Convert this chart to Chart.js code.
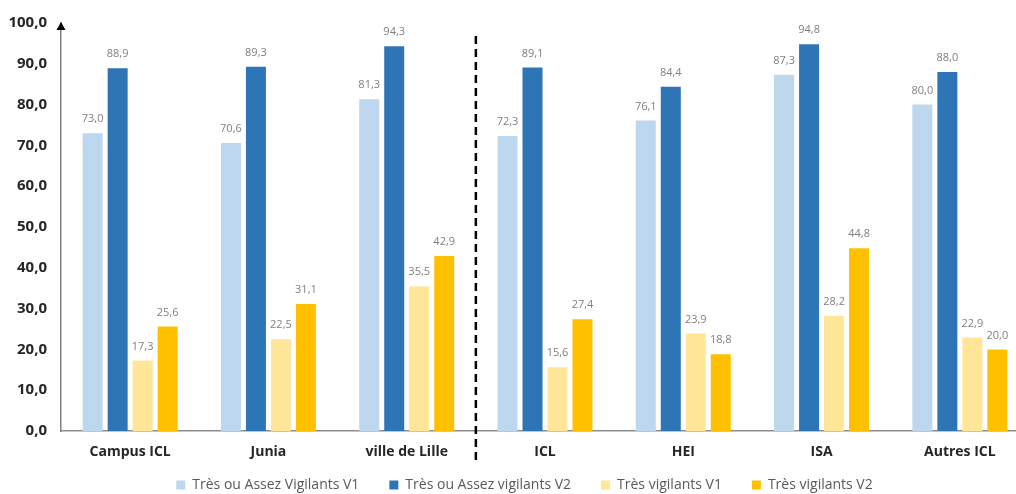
<!DOCTYPE html>
<html>
<head>
<meta charset="utf-8">
<script src="https://cdn.jsdelivr.net/npm/chart.js@4.4.1/dist/chart.umd.min.js"></script>
<style>
  html, body { margin: 0; padding: 0; background: #ffffff; overflow: hidden; }
  #wrap { position: absolute; left: 0; top: 0; width: 1049px; height: 502px; }
</style>
</head>
<body>
<div id="wrap"><canvas id="chart"></canvas></div>
<script>
// Groups along the x axis
const categories = ['Campus ICL', 'Junia', 'ville de Lille', 'ICL', 'HEI', 'ISA', 'Autres ICL'];

// Series names (legend)
const seriesNames = [
  'Très ou Assez Vigilants V1',
  'Très ou Assez vigilants V2',
  'Très vigilants V1',
  'Très vigilants V2'
];

// Values (%)
const assezVigilantsV1 = [73.0, 70.6, 81.3, 72.3, 76.1, 87.3, 80.0];
const assezVigilantsV2 = [88.9, 89.3, 94.3, 89.1, 84.4, 94.8, 88.0];
const tresVigilantsV1  = [17.3, 22.5, 35.5, 15.6, 23.9, 28.2, 22.9];
const tresVigilantsV2  = [25.6, 31.1, 42.9, 27.4, 18.8, 44.8, 20.0];

// Y axis ticks
const yTicks = [0, 10, 20, 30, 40, 50, 60, 70, 80, 90, 100];

// Dashed separator drawn after this group
const separatorAfter = 'ville de Lille';

const seriesColors = ['#BDD7EE', '#2E75B6', '#FFE699', '#FFC000'];
const seriesValues = [assezVigilantsV1, assezVigilantsV2, tresVigilantsV1, tresVigilantsV2];

const fmt = v => v.toFixed(1).replace('.', ',');
const FONT = "'Open Sans', 'DejaVu Sans', sans-serif";

// Value written above each bar
const valueLabels = {
  id: 'valueLabels',
  afterDatasetsDraw(chart) {
    const ctx = chart.ctx;
    ctx.save();
    ctx.font = `11px ${FONT}`;
    ctx.fillStyle = '#808080';
    ctx.textAlign = 'center';
    ctx.textBaseline = 'middle';
    chart.data.datasets.forEach((ds, i) => {
      const meta = chart.getDatasetMeta(i);
      meta.data.forEach((bar, j) => {
        ctx.fillText(fmt(ds.data[j]), bar.x, bar.y - 14);
      });
    });
    ctx.restore();
  }
};

// Vertical dashed separator between two groups of schools
const groupSeparator = {
  id: 'groupSeparator',
  afterDraw(chart) {
    const xs = chart.scales.x;
    const area = chart.chartArea;
    const idx = categories.indexOf(separatorAfter);
    const x = (xs.getPixelForValue(idx) + xs.getPixelForValue(idx + 1)) / 2;
    const ctx = chart.ctx;
    ctx.save();
    ctx.strokeStyle = '#000000';
    ctx.lineWidth = 2.5;
    ctx.setLineDash([8, 5]);
    ctx.beginPath();
    ctx.moveTo(x, area.top + 13);
    ctx.lineTo(x, area.bottom + 30);
    ctx.stroke();
    ctx.restore();
  }
};

// Arrow head on top of the y axis
const axisArrow = {
  id: 'axisArrow',
  afterDraw(chart) {
    const area = chart.chartArea;
    const ctx = chart.ctx;
    const x = area.left;
    const y = area.top - 1;
    ctx.save();
    ctx.fillStyle = '#000000';
    ctx.beginPath();
    ctx.moveTo(x, y);
    ctx.lineTo(x - 4.5, y + 8);
    ctx.lineTo(x + 4.5, y + 8);
    ctx.closePath();
    ctx.fill();
    ctx.restore();
  }
};

// Let tick labels overflow their scale box instead of being clipped
const noLabelClip = scale => { scale._computeLabelArea = () => undefined; };

new Chart(document.getElementById('chart'), {
  type: 'bar',
  data: {
    labels: categories,
    datasets: seriesNames.map((name, i) => ({
      label: name,
      data: seriesValues[i],
      backgroundColor: seriesColors[i],
      borderWidth: 0,
      categoryPercentage: 0.723,
      barPercentage: 0.8
    }))
  },
  options: {
    responsive: true,
    maintainAspectRatio: false,
    animation: false,
    layout: { padding: { top: 17, left: 20, right: 20, bottom: 0 } },
    plugins: {
      tooltip: { enabled: false },
      legend: {
        position: 'bottom',
        labels: {
          boxWidth: 9,
          boxHeight: 9,
          padding: 30,
          color: '#595959',
          font: { family: FONT, size: 14 }
        }
      }
    },
    scales: {
      x: {
        grid: { display: false, drawTicks: false },
        border: { display: true, color: '#8c8c8c', width: 1.5 },
        ticks: {
          padding: 13,
          color: '#262626',
          font: { family: FONT, size: 14, weight: 'bold' }
        },
        afterFit(scale) { scale.height = 17; noLabelClip(scale); }
      },
      y: {
        min: 0,
        max: 100,
        grid: { display: false, drawTicks: false },
        border: { display: true, color: '#7f7f7f', width: 1.5 },
        afterBuildTicks(scale) { scale.ticks = yTicks.map(v => ({ value: v })); },
        ticks: {
          padding: 14,
          color: '#262626',
          font: { family: FONT, size: 15, weight: 'bold' },
          callback: v => fmt(v)
        },
        afterFit(scale) { scale.width = 41; noLabelClip(scale); }
      }
    }
  },
  plugins: [valueLabels, groupSeparator, axisArrow]
});
</script>
</body>
</html>
